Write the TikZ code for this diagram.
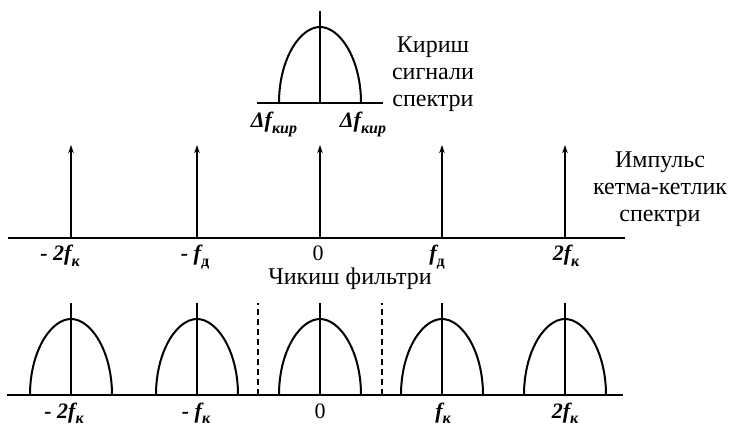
\documentclass[tikz,border=0pt]{standalone}
\usepackage{fontspec}
\setmainfont{Liberation Serif}
\usetikzlibrary{arrows.meta}
\newcommand{\lsub}[1]{\raisebox{-0.25em}{\fontsize{16}{16}\selectfont\bfseries #1}}
\tikzset{
  axisline/.style={line width=2pt},
  archline/.style={line width=2pt},
  spike/.style={line width=2pt,-{Stealth[length=8pt,width=5.5pt]}},
  cutline/.style={line width=2pt,dash pattern=on 6pt off 4pt},
  lbl/.style={font=\fontsize{22}{24}\selectfont\bfseries\itshape, inner sep=0pt, anchor=base},
  zerolbl/.style={font=\fontsize{22}{24}\selectfont, inner sep=0pt, anchor=base},
  captext/.style={font=\fontsize{24}{27}\selectfont, align=center, inner sep=0pt},
  lobe/.pic={
    \draw[archline] (-41,0) .. controls (-41,-44) and (-20,-76) .. (0,-76)
                            .. controls (20,-76) and (41,-44) .. (41,0);
    \draw[archline] (0,0) -- (0,-92);
  }
}
\begin{document}
\begin{tikzpicture}[x=1pt,y=-1pt]
\useasboundingbox (0,0) rectangle (733,427);

% ---- input spectrum ----
\coordinate (tl) at (257,103);
\coordinate (tr) at (383,103);
\draw[axisline] (tl) -- (tr);
\pic at (320,103) {lobe};
\node[lbl] (dl) at (274,128) {Δf\lsub{кир}};
\node[lbl] (dr) at (363,128) {Δf\lsub{кир}};
\node[captext] (c1) at (433,74) {Кириш\\сигнали\\спектри};

% ---- impulse sequence spectrum ----
\coordinate (ml) at (8,238);
\coordinate (mr) at (625,238);
\draw[axisline] (ml) -- (mr);
\foreach \x/\n in {71/a,197/b,320/c,442/d,565/e}{
  \coordinate (b\n) at (\x,238);
  \coordinate (t\n) at (\x,145);
  \draw[spike] (b\n) -- (t\n);
}
\node[lbl] (m1) at (60,261) {- 2f\lsub{\itshape к}};
\node[lbl] (m2) at (195,261) {- f\lsub{\upshape д}};
\node[zerolbl] (m3) at (318,261) {0};
\node[lbl] (m4) at (437,261) {f\lsub{\upshape д}};
\node[lbl] (m5) at (566,261) {2f\lsub{\itshape к}};
\node[captext] (c2) at (660,189) {Импульс\\кетма-кетлик\\спектри};
\node[captext,anchor=base] (c3) at (350,285) {Чикиш фильтри};

% ---- output ----
\coordinate (bl) at (7,395);
\coordinate (br) at (623,395);
\draw[axisline] (bl) -- (br);
\foreach \x in {71,197,320,442,565}{
  \pic at (\x,395) {lobe};
}
\coordinate (d1b) at (258,395);
\coordinate (d1t) at (258,303);
\coordinate (d2b) at (382,395);
\coordinate (d2t) at (382,303);
\draw[cutline] (d1b) -- (d1t);
\draw[cutline] (d2b) -- (d2t);
\node[lbl] (n1) at (64,418) {- 2f\lsub{к}};
\node[lbl] (n2) at (196,418) {- f\lsub{к}};
\node[zerolbl] (n3) at (320,418) {0};
\node[lbl] (n4) at (443,418) {f\lsub{к}};
\node[lbl] (n5) at (565,418) {2f\lsub{к}};
\end{tikzpicture}
\end{document}
